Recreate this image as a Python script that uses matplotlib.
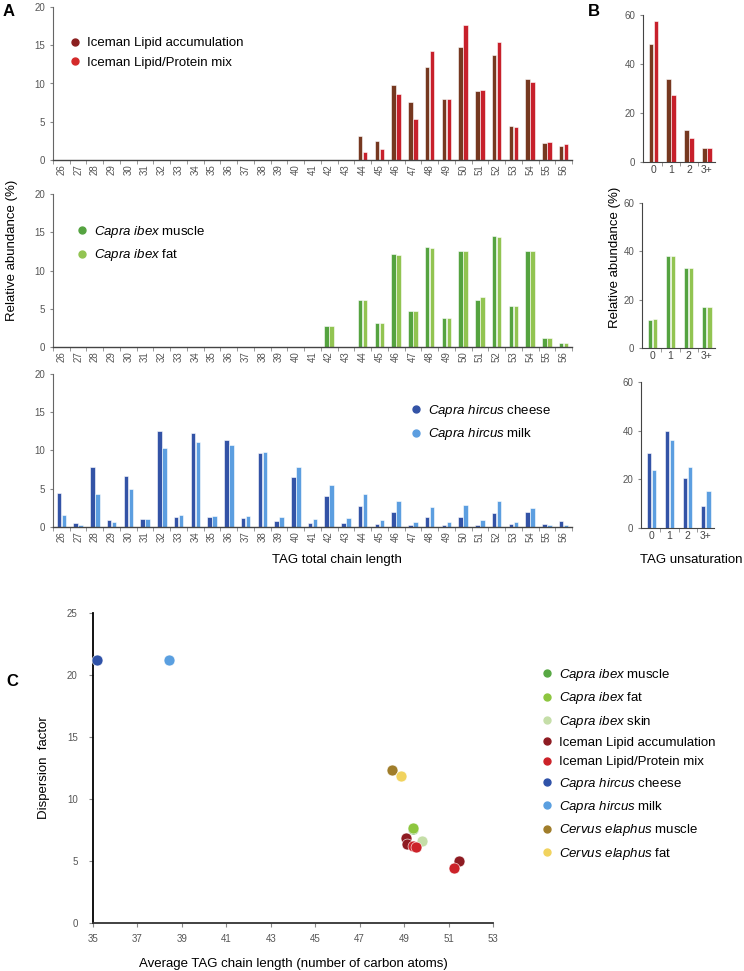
import matplotlib.pyplot as plt
from matplotlib.lines import Line2D
import numpy as np

plt.rcParams['font.family'] = 'Liberation Sans'
plt.rcParams['mathtext.fontset'] = 'custom'
plt.rcParams['mathtext.rm'] = 'Liberation Sans'
plt.rcParams['mathtext.it'] = 'Liberation Sans:italic'

# ---------------- data ----------------
chain = ['26', '27', '28', '29', '30', '31', '32', '33', '34', '35', '36',
         '37', '38', '39', '40', '41', '42', '43', '44', '45', '46', '47',
         '48', '49', '50', '51', '52', '53', '54', '55', '56']

iceman_accum = [0, 0, 0, 0, 0, 0, 0, 0, 0, 0, 0, 0, 0, 0, 0, 0, 0, 0,
                3.1, 2.5, 9.8, 7.6, 12.1, 8.0, 14.8, 9.0, 13.7, 4.4, 10.6, 2.2, 1.8]
iceman_mix = [0, 0, 0, 0, 0, 0, 0, 0, 0, 0, 0, 0, 0, 0, 0, 0, 0, 0,
              1.0, 1.4, 8.6, 5.4, 14.3, 8.0, 17.6, 9.1, 15.4, 4.3, 10.2, 2.3, 2.1]

ibex_muscle = [0, 0, 0, 0, 0, 0, 0, 0, 0, 0, 0, 0, 0, 0, 0, 0,
               2.7, 0, 6.1, 3.2, 12.1, 4.7, 13.1, 3.8, 12.6, 6.1, 14.5, 5.4, 12.6, 1.2, 0.5]
ibex_fat = [0, 0, 0, 0, 0, 0, 0, 0, 0, 0, 0, 0, 0, 0, 0, 0,
            2.7, 0, 6.1, 3.2, 12.0, 4.7, 12.9, 3.8, 12.6, 6.6, 14.4, 5.4, 12.6, 1.2, 0.5]

hircus_cheese = [4.5, 0.5, 7.9, 0.9, 6.7, 1.1, 12.6, 1.35, 12.3, 1.3, 11.4, 1.2, 9.7, 0.8,
                 6.6, 0.55, 4.0, 0.5, 2.8, 0.35, 1.9, 0.2, 1.25, 0.2, 1.3, 0.3, 1.85, 0.4,
                 1.95, 0.4, 0.75]
hircus_milk = [1.6, 0.2, 4.35, 0.6, 4.95, 1.1, 10.35, 1.6, 11.1, 1.5, 10.7, 1.5, 9.8, 1.25,
               7.9, 1.1, 5.5, 1.2, 4.3, 0.95, 3.45, 0.65, 2.55, 0.7, 2.9, 0.9, 3.4, 0.7,
               2.5, 0.2, 0.25]

unsat = ['0', '1', '2', '3+']
unsat_iceman_accum = [48.0, 33.7, 13.0, 5.6]
unsat_iceman_mix = [57.6, 27.2, 9.9, 5.6]
unsat_ibex_muscle = [11.7, 38.1, 33.0, 17.1]
unsat_ibex_fat = [12.0, 37.9, 33.0, 17.0]
unsat_cheese = [30.8, 39.7, 20.7, 8.9]
unsat_milk = [24.0, 36.0, 25.1, 15.1]

# panel C: average chain length vs dispersion factor
sc_names = [r'$\it{Capra\ ibex}$ muscle', r'$\it{Capra\ ibex}$ fat', r'$\it{Capra\ ibex}$ skin',
            'Iceman Lipid accumulation', 'Iceman Lipid/Protein mix',
            r'$\it{Capra\ hircus}$ cheese', r'$\it{Capra\ hircus}$ milk',
            r'$\it{Cervus\ elaphus}$ muscle', r'$\it{Cervus\ elaphus}$ fat']
sc_colors = ['#57a843', '#8dc63f', '#c5dea8', '#8e1b22', '#cc2229',
             '#2f52a8', '#5a9fe0', '#a07d2a', '#f1d35e']
sc_x = [[49.39], [49.42], [49.79], [49.10, 49.15, 51.48], [49.39, 49.52, 51.25],
        [35.2], [38.4], [48.47], [48.86]]
sc_y = [[7.61], [7.63], [6.62], [6.84, 6.38, 4.96], [6.22, 6.11, 4.42],
        [21.2], [21.2], [12.33], [11.88]]

# ---------------- layout ----------------
W, H = 744, 971
fig = plt.figure(figsize=(W / 100, H / 100), dpi=100)


def rect(l, r, t, b):
    return [l / W, 1 - b / H, (r - l) / W, (b - t) / H]


TICK = '#555555'


def chain_panel(box, a, b, ca, cb):
    ax = fig.add_axes(rect(*box))
    x = np.arange(len(chain))
    ax.bar(x - 0.15, a, 0.27, color=ca, edgecolor='white', linewidth=0.4)
    ax.bar(x + 0.15, b, 0.27, color=cb, edgecolor='white', linewidth=0.4)
    ax.set_xlim(-0.5, len(chain) - 0.5)
    ax.set_ylim(0, 20)
    ax.set_yticks([0, 5, 10, 15, 20])
    ax.set_xticks(x)
    ax.set_xticklabels(chain, rotation=90)
    ax.set_xticks(np.arange(len(chain) + 1) - 0.5, minor=True)
    ax.tick_params(axis='x', which='major', length=0, labelsize=7, labelcolor=TICK, pad=3)
    ax.tick_params(axis='x', which='minor', length=3, color='#888888')
    ax.tick_params(axis='y', length=2, labelsize=7, labelcolor=TICK, color='#888888')
    for s in ['top', 'right']:
        ax.spines[s].set_visible(False)
    ax.spines['left'].set_color('#666666')
    ax.spines['bottom'].set_color('#444444')
    ax.spines['bottom'].set_linewidth(1.0)
    return ax


def unsat_panel(box, a, b, ca, cb):
    ax = fig.add_axes(rect(*box))
    x = np.arange(len(unsat))
    ax.bar(x - 0.14, a, 0.24, color=ca, edgecolor='white', linewidth=0.4)
    ax.bar(x + 0.14, b, 0.24, color=cb, edgecolor='white', linewidth=0.4)
    ax.set_xlim(-0.57, 3.45)
    ax.set_ylim(0, 60)
    ax.set_yticks([0, 20, 40, 60])
    ax.set_xticks(x)
    ax.set_xticklabels(unsat)
    ax.set_xticks([0.5, 1.5, 2.5], minor=True)
    ax.tick_params(axis='x', which='major', length=0, labelsize=7.5, labelcolor='#444444', pad=2)
    ax.tick_params(axis='x', which='minor', length=3, color='#888888')
    ax.tick_params(axis='y', length=2, labelsize=7, labelcolor=TICK, color='#888888')
    for s in ['top', 'right']:
        ax.spines[s].set_visible(False)
    ax.spines['left'].set_color('#444444')
    ax.spines['bottom'].set_color('#444444')
    return ax


def dot_legend(ax, colors, labels, x, y, ms=5):
    handles = [Line2D([], [], marker='o', ls='', color=c, markersize=ms) for c in colors]
    ax.legend(handles, labels, loc='upper left', bbox_to_anchor=(x / W, 1 - y / H),
              bbox_transform=fig.transFigure, frameon=False, fontsize=9.5,
              handlelength=0.6, handletextpad=0.6, labelspacing=0.55,
              borderaxespad=0, borderpad=0)


# ---- panel A ----
a1 = chain_panel((53, 572, 7, 160), iceman_accum, iceman_mix, '#763820', '#c7202b')
dot_legend(a1, ['#8b1f1f', '#d42a2a'], ['Iceman Lipid accumulation', 'Iceman Lipid/Protein mix'], 71, 37)

a2 = chain_panel((53, 572, 194, 347), ibex_muscle, ibex_fat, '#55a340', '#92c452')
dot_legend(a2, ['#55a340', '#92c452'],
           [r'$\it{Capra\ ibex}$ muscle', r'$\it{Capra\ ibex}$ fat'], 78, 224)

a3 = chain_panel((53, 572, 374, 527), hircus_cheese, hircus_milk, '#3353a6', '#5c9ee0')
dot_legend(a3, ['#3353a6', '#5c9ee0'],
           [r'$\it{Capra\ hircus}$ cheese', r'$\it{Capra\ hircus}$ milk'], 412, 403)

fig.text(12 / W, 1 - 250 / H, 'Relative abundance (%)', rotation=90, ha='center', va='center', fontsize=9.5)
fig.text(337 / W, 1 - 560 / H, 'TAG total chain length', ha='center', va='center', fontsize=9.5)

# ---- panel B ----
unsat_panel((643, 715, 15, 162), unsat_iceman_accum, unsat_iceman_mix, '#763820', '#c7202b')
unsat_panel((642, 715, 203, 348), unsat_ibex_muscle, unsat_ibex_fat, '#55a340', '#92c452')
unsat_panel((641, 714, 382, 528), unsat_cheese, unsat_milk, '#3353a6', '#5c9ee0')
fig.text(615 / W, 1 - 257 / H, 'Relative abundance (%)', rotation=90, ha='center', va='center', fontsize=9.5)
fig.text(691 / W, 1 - 560 / H, 'TAG unsaturation', ha='center', va='center', fontsize=9.5)

# ---- panel C ----
ac = fig.add_axes(rect(93, 493, 613, 923))
for name, c, xs, ys in zip(sc_names, sc_colors, sc_x, sc_y):
    ac.scatter(xs, ys, s=62, color=c, edgecolors='white', linewidths=0.4, zorder=3, clip_on=False)
ac.set_xlim(35, 53)
ac.set_ylim(0, 25)
ac.set_xticks(range(35, 54, 2))
ac.set_yticks([0, 5, 10, 15, 20, 25])
ac.tick_params(axis='x', length=3, labelsize=7, labelcolor=TICK, color='#888888', pad=5)
ac.tick_params(axis='y', length=3, labelsize=7, labelcolor=TICK, color='#888888', pad=8)
for s in ['top', 'right']:
    ac.spines[s].set_visible(False)
ac.spines['left'].set_linewidth(1.3)
ac.spines['bottom'].set_linewidth(1.3)
ac.spines['bottom'].set_color('#333333')
ac.set_xlabel('Average TAG chain length (number of carbon atoms)', fontsize=9.5, labelpad=10)
ac.set_ylabel('Dispersion  factor', fontsize=9.5, labelpad=12)
dot_legend(ac, sc_colors, sc_names, 543, 667)

# panel letters
fig.text(9 / W, 1 - 12 / H, 'A', fontsize=12, fontweight='bold', ha='center', va='center')
fig.text(594 / W, 1 - 11 / H, 'B', fontsize=12, fontweight='bold', ha='center', va='center')
fig.text(12 / W, 1 - 681 / H, 'C', fontsize=12, fontweight='bold', ha='center', va='center')

fig.savefig('out.png', dpi=100)
